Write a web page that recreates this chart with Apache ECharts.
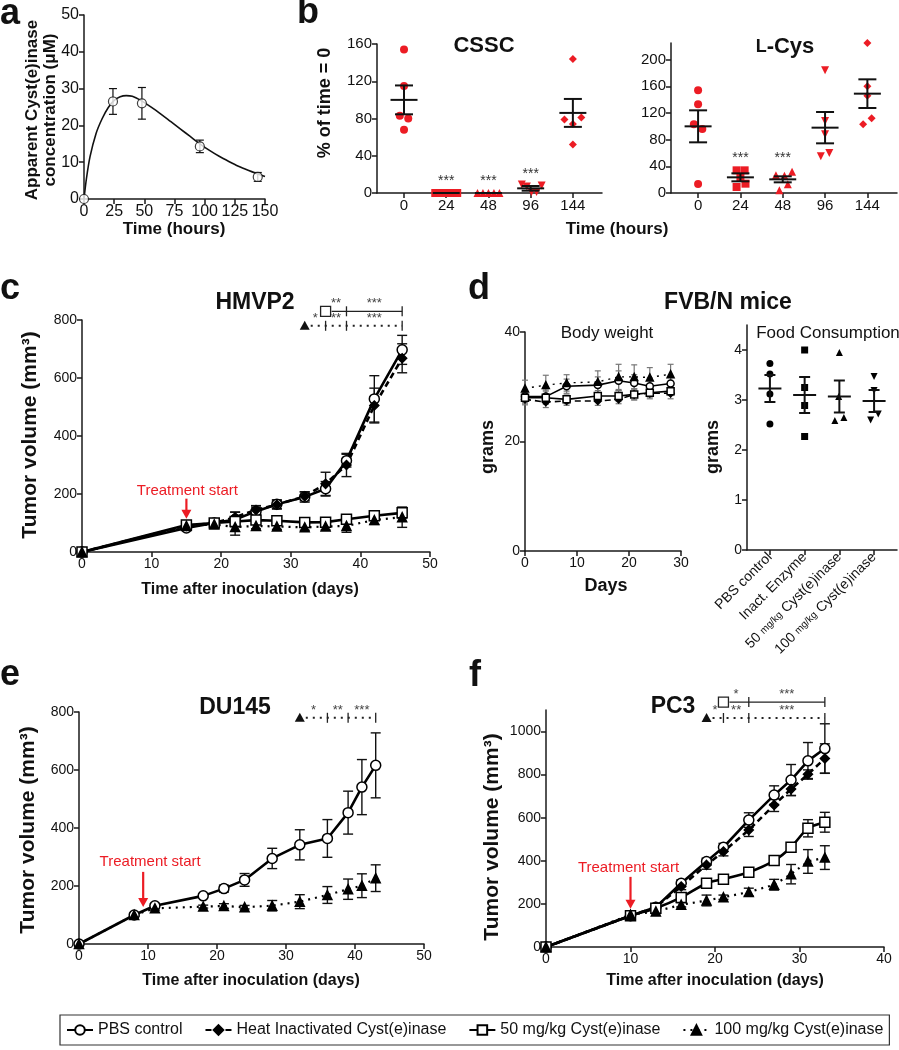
<!DOCTYPE html>
<html><head><meta charset="utf-8">
<script src="https://cdn.jsdelivr.net/npm/echarts@6/dist/echarts.min.js"></script>
<style>html,body{margin:0;padding:0;background:#fff}#c{width:899px;height:1050px}</style>
</head><body><div id="c"></div>
<script>
// ---------- DATA ----------
// panel a
const aTime = [0, 24, 48, 96, 144];
const aConc = [0, 26.5, 26, 14.3, 6.0];
const aErr  = [0, 3.5, 4.3, 1.7, 1.2];
const aCurveT = [0, 2, 5, 10, 15, 20, 25, 30, 35, 40, 48, 56, 64, 72, 80, 88, 96, 104, 112, 120, 128, 136, 144, 150];
const aCurveV = [0, 5.5, 11.5, 17.8, 21.8, 24.8, 26.8, 27.8, 28.1, 27.9, 26.6, 24.9, 23.0, 21.0, 19.0, 17.0, 15.0, 13.2, 11.6, 10.2, 8.9, 7.8, 6.8, 6.1];
// panel b
const bCats = ['0', '24', '48', '96', '144'];
const cssc0 = [154, 115, 83, 80, 68],   cssc0Jit = [0, 0, -0.1, 0.1, 0];
const cssc24 = [0, 0, 0, 0, 0],         cssc24Jit = [-0.26, -0.13, 0, 0.13, 0.26];
const cssc48 = [0, 0, 0, 0, 0],         cssc48Jit = [-0.26, -0.13, 0, 0.13, 0.26];
const cssc96 = [9, 7, 8, 1, 1],         cssc96Jit = [-0.21, -0.09, 0.26, 0.02, 0.14];
const cssc144 = [144, 79, 74, 81, 52],  cssc144Jit = [0, -0.2, 0, 0.2, 0];
const csscMean = [100, 0, 0, 5, 86];
const csscSem  = [15.5, 0, 0, 2.5, 15];
const csscStarsAt = [[1, 12.5], [2, 12.5], [3, 20.5]];
const lcys0 = [154, 133, 103, 96, 13.5], lcys0Jit = [0, 0, -0.1, 0.1, 0];
const lcys24 = [34, 34, 22.5, 14, 9],    lcys24Jit = [-0.09, 0.1, 0, 0.12, -0.09];
const lcys48 = [26.5, 26, 32, 13, 4],    lcys48Jit = [-0.16, 0.04, 0.22, 0.12, -0.08];
const lcys96 = [184, 108, 88, 55, 60],   lcys96Jit = [0, 0, 0, -0.1, 0.1];
const lcys144 = [225, 160, 146, 103, 112], lcys144Jit = [0, 0, 0, -0.1, 0.1];
const lcysMean = [100, 23.5, 20.5, 98, 149];
const lcysSem  = [24, 6, 4.5, 23.5, 21.5];
const lcysStarsAt = [[1, 52], [2, 52]];
// panel c  (HMVP2)
const cDays = [0, 15, 19, 22, 25, 28, 32, 35, 38, 42, 46];
const cPBS = [0, 83, 100, 112, 140, 165, 190, 218, 315, 528, 697];
const cPBSErr = [0, 8, 8, 25, 15, 15, 18, 25, 22, 80, 50];
const cHeat = [0, 90, 100, 120, 145, 163, 192, 235, 300, 505, 668];
const cHeatErr = [0, 8, 8, 18, 15, 15, 15, 40, 40, 60, 50];
const c50 = [0, 93, 100, 105, 110, 108, 102, 103, 113, 125, 135];
const c50Err = [0, 8, 10, 12, 10, 8, 8, 8, 10, 12, 18];
const c100 = [0, 90, 95, 86, 90, 88, 85, 88, 90, 110, 120];
const c100Err = [0, 8, 12, 28, 10, 10, 10, 12, 22, 15, 35];
// panel d
const dDays = [0, 4, 8, 14, 18, 21, 24, 28];
const dPBS = [28.2, 28.2, 30.1, 30.3, 31.1, 30.7, 30.1, 30.6];
const dPBSErr = [1, 1.2, 1.3, 1.5, 1.8, 1.5, 1.5, 1.2];
const dHeat = [27.7, 27.2, 27.4, 27.4, 27.7, 28.6, 28.8, 28.8];
const dHeatErr = [1, 1, 0.8, 0.8, 0.8, 1, 1, 1];
const d50 = [28.0, 28.0, 27.7, 28.3, 28.3, 28.6, 28.9, 29.2];
const d50Err = [1, 1.2, 0.8, 1, 1, 1, 0.8, 0.8];
const d100 = [29.7, 30.3, 30.7, 30.9, 31.8, 31.8, 31.7, 32.3];
const d100Err = [1.5, 1.8, 1.5, 2, 2.3, 2.2, 1.8, 1.8];
const foodCats = ['PBS control', 'Inact. Enzyme', '50 {u|mg/kg} Cyst(e)inase', '100 {u|mg/kg} Cyst(e)inase'];
const foodPBS = [3.73, 3.52, 3.12, 2.52],  foodPBSJit = [0, 0, 0, 0];
const foodInact = [4.0, 3.25, 2.89, 2.27], foodInactJit = [0, 0, 0, 0];
const food50 = [3.95, 3.07, 2.59, 2.65],   food50Jit = [0, -0.02, -0.13, 0.13];
const food100 = [3.47, 3.19, 2.72, 2.6],   food100Jit = [0, 0, 0.12, -0.1];
const foodMean = [3.23, 3.1, 3.07, 2.98];
const foodSem = [0.27, 0.36, 0.32, 0.22];
// panel e (DU145)
const eDays = [0, 8, 11, 18, 21, 24, 28, 32, 36, 39, 41, 43];
const ePBS = [0, 100, 132, 166, 191, 221, 295, 342, 364, 453, 541, 616];
const ePBSErr = [0, 5, 8, 6, 12, 22, 35, 52, 65, 74, 95, 112];
const e100 = [0, 100, 123, 129, 131, 127, 132, 146, 169, 189, 201, 227];
const e100Err = [0, 5, 6, 5, 8, 6, 18, 24, 29, 35, 41, 46];
// panel f (PC3)
const fDays = [0, 10, 13, 16, 19, 21, 24, 27, 29, 31, 33];
const fPBS = [0, 145, 185, 296, 397, 463, 589, 705, 775, 864, 921];
const fPBSErr = [0, 10, 15, 15, 15, 18, 34, 43, 72, 85, 115];
const fHeat = [0, 145, 185, 281, 381, 443, 543, 659, 733, 802, 875];
const fHeatErr = [0, 10, 15, 15, 20, 20, 30, 30, 30, 20, 68];
const f50 = [0, 145, 180, 230, 296, 315, 347, 401, 463, 551, 579];
const f50Err = [0, 10, 12, 12, 10, 12, 20, 18, 15, 40, 46];
const f100 = [0, 150, 165, 196, 216, 231, 255, 289, 338, 397, 415];
const f100Err = [0, 10, 10, 10, 25, 10, 18, 25, 45, 55, 55];
// significance annotations
const cSigRect = {breaks: [35, 38, 46], stars: ['**', '***'], y: 830};
const cSigTri  = {breaks: [32, 35, 38, 46], stars: ['*', '**', '***'], y: 780};
const eSigTri  = {breaks: [32, 36, 39, 43], stars: ['*', '**', '***'], y: 780};
const fSigRect = {breaks: [21, 24, 33], stars: ['*', '***'], y: 1137};
const fSigTri  = {breaks: [19, 21, 24, 33], stars: ['*', '**', '***'], y: 1063};
const names = ['PBS control', 'Heat Inactivated Cyst(e)inase', '50 mg/kg Cyst(e)inase', '100 mg/kg Cyst(e)inase'];

// ---------- HELPERS ----------
const FF = '"Liberation Sans", Arial, Helvetica, sans-serif';
const AX = '#1a1a1a';
const RED = '#ec1c24';
function axisBase(gi, type, min, max, fs, extra) {
  return Object.assign({
    type: 'value', gridIndex: gi, min: min, max: max,
    axisLine: {show: true, onZero: false, lineStyle: {color: AX, width: 1.5}},
    axisTick: {show: true, length: 5, lineStyle: {color: AX, width: 1.5}},
    axisLabel: {color: '#111', fontSize: fs, fontFamily: FF, margin: 5},
    splitLine: {show: false}
  }, extra || {});
}
function custVals(gi, min, max, fs, vals, fmt, extraLabel) {
  return axisBase(gi, 'value', min, max, fs, {
    axisTick: {show: true, length: 5, lineStyle: {color: AX, width: 1.5}, customValues: vals},
    axisLabel: Object.assign({color: '#111', fontSize: fs, fontFamily: FF, margin: 5, customValues: vals, formatter: fmt}, extraLabel || {})
  });
}
function errSeries(ai, xs, ys, es, color, lw, cap) {
  return {type: 'custom', xAxisIndex: ai, yAxisIndex: ai, z: 2, silent: true,
    data: xs.map((x, i) => [x, ys[i] - es[i], ys[i] + es[i]]),
    encode: {x: 0, y: [1, 2]},
    renderItem(p, api) {
      const x = api.value(0), lo = api.value(1), hi = api.value(2);
      if (hi - lo <= 0) return null;
      const a = api.coord([x, lo]), b = api.coord([x, hi]);
      const st = {stroke: color, lineWidth: lw};
      return {type: 'group', children: [
        {type: 'line', shape: {x1: a[0], y1: a[1], x2: b[0], y2: b[1]}, style: st},
        {type: 'line', shape: {x1: a[0] - cap, y1: a[1], x2: a[0] + cap, y2: a[1]}, style: st},
        {type: 'line', shape: {x1: b[0] - cap, y1: b[1], x2: b[0] + cap, y2: b[1]}, style: st}]};
    }};
}
function meanSem(ai, means, sems, halfM, halfC, lw) {
  return {type: 'custom', xAxisIndex: ai, yAxisIndex: ai, z: 4, silent: true,
    data: means.map((m, i) => [i, m, sems[i]]),
    renderItem(p, api) {
      const i = api.value(0), m = api.value(1), s = api.value(2);
      const c = api.coord([i, m]), t = api.coord([i, m + s]), b = api.coord([i, m - s]);
      const st = {stroke: '#111', lineWidth: lw};
      const ch = [{type: 'line', shape: {x1: c[0] - halfM, y1: c[1], x2: c[0] + halfM, y2: c[1]}, style: st}];
      if (s > 0) {
        ch.push({type: 'line', shape: {x1: t[0], y1: t[1], x2: b[0], y2: b[1]}, style: st});
        ch.push({type: 'line', shape: {x1: t[0] - halfC, y1: t[1], x2: t[0] + halfC, y2: t[1]}, style: st});
        ch.push({type: 'line', shape: {x1: b[0] - halfC, y1: b[1], x2: b[0] + halfC, y2: b[1]}, style: st});
      }
      return {type: 'group', children: ch};
    }};
}
function jitScatter(ai, cat, vals, jit, symbol, rot, size, color) {
  return {type: 'scatter', xAxisIndex: ai, yAxisIndex: ai, z: 3, silent: true,
    symbol: symbol, symbolRotate: rot, symbolSize: size,
    itemStyle: {color: color, opacity: 1},
    data: vals.map((v, k) => [cat + jit[k], v])};
}
function starsSeries(ai, pts, fs) {
  return {type: 'custom', xAxisIndex: ai, yAxisIndex: ai, z: 5, silent: true, data: pts,
    renderItem(p, api) {
      const c = api.coord([api.value(0), api.value(1)]);
      return {type: 'text', style: {text: '***', x: c[0], y: c[1], align: 'center', verticalAlign: 'middle', fontSize: fs, fontFamily: FF, fill: '#333'}};
    }};
}
function sigSeries(ai, ann, marker, dotted) {
  return {type: 'custom', xAxisIndex: ai, yAxisIndex: ai, clip: false, silent: true, z: 5,
    data: [[ann.breaks[0], ann.y]],
    renderItem(p, api) {
      const xs = ann.breaks.map(b => api.coord([b, ann.y])[0]);
      const y = api.coord([ann.breaks[0], ann.y])[1];
      const ls = dotted ? {stroke: '#222', lineWidth: 2, lineDash: [2, 5]} : {stroke: '#222', lineWidth: 1.3};
      const ch = [{type: 'line', shape: {x1: xs[0] + 6, y1: y, x2: xs[xs.length - 1], y2: y}, style: ls}];
      for (let i = 1; i < xs.length; i++) ch.push({type: 'line', shape: {x1: xs[i], y1: y - 5, x2: xs[i], y2: y + 5}, style: {stroke: '#222', lineWidth: 1.3}});
      for (let i = 0; i < ann.stars.length; i++) ch.push({type: 'text', style: {text: ann.stars[i], x: (xs[i] + xs[i + 1]) / 2, y: y - 1, align: 'center', verticalAlign: 'bottom', fill: '#444', fontSize: 13, fontFamily: FF}});
      if (marker === 'rect') ch.push({type: 'rect', shape: {x: xs[0] - 5, y: y - 5, width: 10, height: 10}, style: {fill: '#fff', stroke: '#222', lineWidth: 1.3}});
      else ch.push({type: 'polygon', shape: {points: [[xs[0], y - 5], [xs[0] + 5, y + 4], [xs[0] - 5, y + 4]]}, style: {fill: '#111'}});
      return {type: 'group', children: ch};
    }};
}
function treatSeries(ai, day, tip, len, textGap, dx) {
  return {type: 'custom', xAxisIndex: ai, yAxisIndex: ai, z: 6, silent: true, data: [[day, tip]],
    renderItem(p, api) {
      const c = api.coord([api.value(0), api.value(1)]);
      return {type: 'group', children: [
        {type: 'line', shape: {x1: c[0], y1: c[1] - len, x2: c[0], y2: c[1] - 8}, style: {stroke: RED, lineWidth: 2.2}},
        {type: 'polygon', shape: {points: [[c[0] - 5, c[1] - 9], [c[0] + 5, c[1] - 9], [c[0], c[1]]]}, style: {fill: RED}},
        {type: 'text', style: {text: 'Treatment start', x: c[0] + dx, y: c[1] - textGap, align: 'center', verticalAlign: 'middle', fontSize: 15, fontFamily: FF, fill: RED}}
      ]};
    }};
}
const STY = {
  pbs:  {symbol: 'circle',  fill: '#fff', dash: 'solid'},
  heat: {symbol: 'diamond', fill: '#000', dash: [6, 4]},
  m50:  {symbol: 'rect',    fill: '#fff', dash: 'solid'},
  m100: {symbol: 'triangle', fill: '#000', dash: [2, 5]}
};
function tumorLine(ai, name, sty, xs, ys, size, lw, smooth) {
  return {type: 'line', name: name, xAxisIndex: ai, yAxisIndex: ai, z: 3, silent: true,
    data: xs.map((x, i) => [x, ys[i]]), smooth: smooth || false,
    symbol: sty.symbol, symbolSize: sty.symbol === 'diamond' ? [size, size] : size, showSymbol: true,
    itemStyle: {color: sty.fill, borderColor: '#000', borderWidth: 1.5},
    lineStyle: {color: '#000', width: lw, type: sty.dash}};
}

// ---------- GRIDS / AXES ----------
const grids = [
  {left: 84, top: 15, width: 181, height: 184},   // 0 a
  {left: 377, top: 44, width: 225, height: 149},  // 1 b CSSC
  {left: 671, top: 43, width: 226, height: 150},  // 2 b L-Cys
  {left: 82, top: 320, width: 348, height: 232},  // 3 c
  {left: 525, top: 332, width: 156, height: 219}, // 4 d body
  {left: 747, top: 325, width: 150, height: 225}, // 5 d food
  {left: 79, top: 712, width: 345, height: 232},  // 6 e
  {left: 546, top: 710, width: 338, height: 237}  // 7 f
];
const xAxes = [
  axisBase(0, 'value', 0, 150, 16, {interval: 25}),
  custVals(1, -0.64, 4.69, 15, [0, 1, 2, 3, 4], v => bCats[Math.round(v)]),
  custVals(2, -0.64, 4.70, 15, [0, 1, 2, 3, 4], v => bCats[Math.round(v)]),
  axisBase(3, 'value', 0, 50, 14, {interval: 10}),
  axisBase(4, 'value', 0, 30, 14, {interval: 10}),
  custVals(5, -0.66, 3.66, 14, [0, 1, 2, 3], v => foodCats[Math.round(v)], {rotate: 45, rich: {u: {fontSize: 10, fontFamily: FF, color: '#111'}}}),
  axisBase(6, 'value', 0, 50, 14, {interval: 10}),
  axisBase(7, 'value', 0, 40, 14, {interval: 10})
];
const yAxes = [
  axisBase(0, 'value', 0, 50, 16, {interval: 10}),
  axisBase(1, 'value', 0, 160, 15, {interval: 40}),
  custVals(2, 0, 225, 15, [0, 40, 80, 120, 160, 200], v => String(v)),
  axisBase(3, 'value', 0, 800, 14, {interval: 200}),
  axisBase(4, 'value', 0, 40, 14, {interval: 20}),
  custVals(5, 0, 4.5, 14, [0, 1, 2, 3, 4], v => String(v)),
  axisBase(6, 'value', 0, 800, 14, {interval: 200}),
  custVals(7, 0, 1100, 14, [0, 200, 400, 600, 800, 1000], v => String(v))
];

// ---------- SERIES ----------
const series = [];
// c first (legend icons)
series.push(tumorLine(3, names[0], STY.pbs, cDays, cPBS, 10, 2.6));
series.push(tumorLine(3, names[1], STY.heat, cDays, cHeat, 9, 2.6));
series.push(tumorLine(3, names[2], STY.m50, cDays, c50, 10, 2.6));
series.push(tumorLine(3, names[3], STY.m100, cDays, c100, 9, 2.2));
series.push(errSeries(3, cDays, cPBS, cPBSErr, '#111', 1.4, 5));
series.push(errSeries(3, cDays, cHeat, cHeatErr, '#111', 1.4, 5));
series.push(errSeries(3, cDays, c50, c50Err, '#111', 1.4, 5));
series.push(errSeries(3, cDays, c100, c100Err, '#111', 1.4, 5));
series.push(sigSeries(3, cSigRect, 'rect', false));
series.push(sigSeries(3, cSigTri, 'tri', true));
series.push(treatSeries(3, 15, 115, 20, 28, 1));
// a
series.push({type: 'line', xAxisIndex: 0, yAxisIndex: 0, silent: true, smooth: 0.3, showSymbol: false, z: 3,
  data: aCurveT.map((t, i) => [t, aCurveV[i]]), lineStyle: {color: '#111', width: 1.6}});
series.push(errSeries(0, aTime, aConc, aErr, '#111', 1.2, 4));
series.push({type: 'scatter', xAxisIndex: 0, yAxisIndex: 0, silent: true, z: 4, symbol: 'circle', symbolSize: 9,
  itemStyle: {color: '#fff', borderColor: '#111', borderWidth: 1.2}, data: aTime.map((t, i) => [t, aConc[i]])});
// b CSSC
series.push(jitScatter(1, 0, cssc0, cssc0Jit, 'circle', 0, 8, RED));
series.push(jitScatter(1, 1, cssc24, cssc24Jit, 'rect', 0, 8, RED));
series.push(jitScatter(1, 2, cssc48, cssc48Jit, 'triangle', 0, 8, RED));
series.push(jitScatter(1, 3, cssc96, cssc96Jit, 'triangle', 180, 8, RED));
series.push(jitScatter(1, 4, cssc144, cssc144Jit, 'diamond', 0, [8, 8], RED));
series.push(meanSem(1, csscMean, csscSem, 13.5, 9, 2));
series.push(starsSeries(1, csscStarsAt, 14));
// b L-Cys
series.push(jitScatter(2, 0, lcys0, lcys0Jit, 'circle', 0, 8, RED));
series.push(jitScatter(2, 1, lcys24, lcys24Jit, 'rect', 0, 8, RED));
series.push(jitScatter(2, 2, lcys48, lcys48Jit, 'triangle', 0, 8, RED));
series.push(jitScatter(2, 3, lcys96, lcys96Jit, 'triangle', 180, 8, RED));
series.push(jitScatter(2, 4, lcys144, lcys144Jit, 'diamond', 0, [8, 8], RED));
series.push(meanSem(2, lcysMean, lcysSem, 13.5, 9, 2));
series.push(starsSeries(2, lcysStarsAt, 14));
// d body weight
series.push(tumorLine(4, names[0], STY.pbs, dDays, dPBS, 7, 1.6));
series.push(tumorLine(4, names[1], STY.heat, dDays, dHeat, 7, 1.6));
series.push(tumorLine(4, names[2], STY.m50, dDays, d50, 7, 1.6));
series.push(tumorLine(4, names[3], STY.m100, dDays, d100, 7, 1.4));
series.push(errSeries(4, dDays, dPBS, dPBSErr, '#777', 1.2, 3));
series.push(errSeries(4, dDays, dHeat, dHeatErr, '#777', 1.2, 3));
series.push(errSeries(4, dDays, d50, d50Err, '#777', 1.2, 3));
series.push(errSeries(4, dDays, d100, d100Err, '#777', 1.2, 3));
// d food
series.push(jitScatter(5, 0, foodPBS, foodPBSJit, 'circle', 0, 7, '#000'));
series.push(jitScatter(5, 1, foodInact, foodInactJit, 'rect', 0, 7, '#000'));
series.push(jitScatter(5, 2, food50, food50Jit, 'triangle', 0, 7, '#000'));
series.push(jitScatter(5, 3, food100, food100Jit, 'triangle', 180, 7, '#000'));
series.push(meanSem(5, foodMean, foodSem, 11.5, 5.5, 2));
// e
series.push(tumorLine(6, names[0], STY.pbs, eDays, ePBS, 10, 2.6));
series.push(tumorLine(6, names[3], STY.m100, eDays, e100, 9, 2.2));
series.push(errSeries(6, eDays, ePBS, ePBSErr, '#111', 1.4, 5));
series.push(errSeries(6, eDays, e100, e100Err, '#111', 1.4, 5));
series.push(sigSeries(6, eSigTri, 'tri', true));
series.push(treatSeries(6, 9.3, 128, 35, 45, 7));
// f
series.push(tumorLine(7, names[0], STY.pbs, fDays, fPBS, 10, 2.6));
series.push(tumorLine(7, names[1], STY.heat, fDays, fHeat, 9, 2.6));
series.push(tumorLine(7, names[2], STY.m50, fDays, f50, 10, 2.6, 0.25));
series.push(tumorLine(7, names[3], STY.m100, fDays, f100, 9, 2.2));
series.push(errSeries(7, fDays, fPBS, fPBSErr, '#111', 1.4, 5));
series.push(errSeries(7, fDays, fHeat, fHeatErr, '#111', 1.4, 5));
series.push(errSeries(7, fDays, f50, f50Err, '#111', 1.4, 5));
series.push(errSeries(7, fDays, f100, f100Err, '#111', 1.4, 5));
series.push(sigSeries(7, fSigRect, 'rect', false));
series.push(sigSeries(7, fSigTri, 'tri', true));
series.push(treatSeries(7, 10, 177, 32, 41, -2));

// ---------- TEXT ----------
function T(text, x, y, fs, bold, rot, extra) {
  return {type: 'text', x: x, y: y, rotation: rot || 0, silent: true,
    style: Object.assign({text: text, fontSize: fs, fontWeight: bold ? 'bold' : 'normal', fontFamily: FF, fill: '#111', align: 'center', verticalAlign: 'middle'}, extra || {})};
}
const graphic = [
  T('a', 0, 14, 36, true, 0, {align: 'left'}),
  T('b', 297, 13, 36, true, 0, {align: 'left'}),
  T('c', 0, 289, 36, true, 0, {align: 'left'}),
  T('d', 468, 289, 36, true, 0, {align: 'left'}),
  T('e', 0, 675, 36, true, 0, {align: 'left'}),
  T('f', 469, 676, 36, true, 0, {align: 'left'}),
  T('Apparent Cyst(e)inase\nconcentration (μM)', 41, 110, 17, true, Math.PI / 2, {lineHeight: 18}),
  T('Time (hours)', 174, 229, 17, true),
  T('% of time = 0', 325, 103, 18, true, Math.PI / 2),
  T('Time (hours)', 617, 229, 17, true),
  T('CSSC', 484, 46, 22, true),
  T('{s|L}-Cys', 785, 47, 22, true, 0, {rich: {s: {fontSize: 18, fontWeight: 'bold', fontFamily: FF, fill: '#111'}}}),
  T('HMVP2', 255, 303, 23, true),
  T('Tumor volume (mm³)', 30, 435, 21, true, Math.PI / 2),
  T('Time after inoculation (days)', 250, 590, 16, true),
  T('FVB/N mice', 728, 303, 23, true),
  T('Body weight', 607, 333, 17, false),
  T('Food Consumption', 828, 333, 17, false),
  T('grams', 488, 447, 18, true, Math.PI / 2),
  T('grams', 713, 447, 18, true, Math.PI / 2),
  T('Days', 606, 586, 18, true),
  T('DU145', 235, 708, 23, true),
  T('Tumor volume (mm³)', 28, 830, 21, true, Math.PI / 2),
  T('Time after inoculation (days)', 251, 981, 16, true),
  T('PC3', 673, 707, 23, true),
  T('Tumor volume (mm³)', 492, 837, 21, true, Math.PI / 2),
  T('Time after inoculation (days)', 715, 981, 16, true)
];

const chart = echarts.init(document.getElementById('c'), null, {renderer: 'canvas'});
chart.setOption({
  animation: false,
  backgroundColor: '#fff',
  textStyle: {fontFamily: FF},
  grid: grids,
  xAxis: xAxes,
  yAxis: yAxes,
  legend: {
    data: names, left: 60, top: 1015, width: 836, itemGap: 22, itemWidth: 26, itemHeight: 12,
    padding: [7, 6, 7, 6], borderColor: '#333', borderWidth: 1.2, selectedMode: false,
    textStyle: {fontSize: 16, fontFamily: FF, color: '#111'}
  },
  graphic: graphic,
  series: series
});
</script></body></html>
